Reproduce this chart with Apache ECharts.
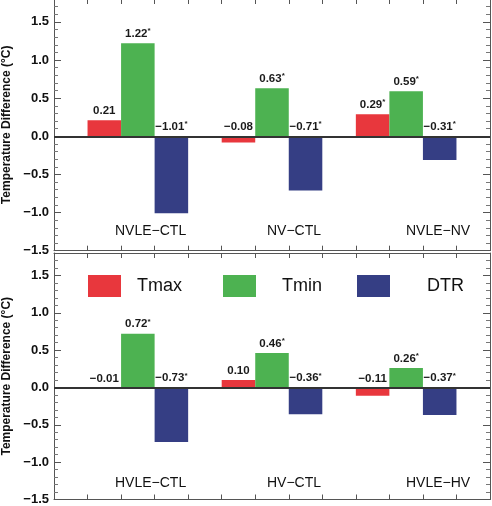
<!DOCTYPE html>
<html>
<head>
<meta charset="utf-8">
<script src="https://cdn.jsdelivr.net/npm/echarts@6/dist/echarts.min.js"></script>
<style>
html,body{margin:0;padding:0;background:#fff;}
#chart{width:492px;height:506px;}
</style>
</head>
<body>
<div id="chart"></div>
<script>
// ---- data ----
const seriesNames = ['Tmax', 'Tmin', 'DTR'];
const groupsTop = ['NVLE\u2212CTL', 'NV\u2212CTL', 'NVLE\u2212NV'];
const groupsBottom = ['HVLE\u2212CTL', 'HV\u2212CTL', 'HVLE\u2212HV'];

const tmaxTop = [0.21, -0.08, 0.29];
const tminTop = [1.22, 0.63, 0.59];
const dtrTop  = [-1.01, -0.71, -0.31];
const tmaxTopSig = [false, false, true];
const tminTopSig = [true, true, true];
const dtrTopSig  = [true, true, true];

const tmaxBottom = [-0.01, 0.10, -0.11];
const tminBottom = [0.72, 0.46, 0.26];
const dtrBottom  = [-0.73, -0.36, -0.37];
const tmaxBottomSig = [false, false, false];
const tminBottomSig = [true, true, true];
const dtrBottomSig  = [true, true, true];

const yMin = -1.5, yMax = 1.8, yStep = 0.5;
const nSlots = 13;

// ---- helpers ----
const colors = ['#E8373D', '#4DB251', '#353E84'];
const FONT = 'Liberation Sans, Arial, Helvetica, sans-serif';
const slots = Array.from({length: nSlots}, (_, i) => 's' + i);

function fmtNum(v) {
  const s = Math.abs(v).toFixed(2);
  return (v < 0 ? '\u2212' : '') + s;
}

function slotData(values, k) {
  const arr = new Array(nSlots).fill(null);
  values.forEach((v, g) => { arr[1 + 4 * g + k] = v; });
  return arr;
}
function slotSig(sigs, k) {
  const arr = new Array(nSlots).fill(false);
  sigs.forEach((s, g) => { arr[1 + 4 * g + k] = s; });
  return arr;
}

function barSeries(name, values, sigs, k, axisIdx, withZero) {
  const sigArr = slotSig(sigs, k);
  const s = {
    name: name,
    type: 'bar',
    xAxisIndex: axisIdx,
    yAxisIndex: axisIdx,
    data: slotData(values, k),
    barWidth: '100%',
    barGap: '-100%',
    itemStyle: {color: colors[k]},
    label: {
      show: true,
      position: 'top',
      distance: 3,
      fontFamily: FONT,
      fontSize: 11.5,
      fontWeight: 'bold',
      color: '#1a1a1a',
      formatter: p => fmtNum(p.value) + (sigArr[p.dataIndex] ? '{s|*}' : ''),
      rich: {s: {fontSize: 8, fontWeight: 'bold', padding: [0, 0, 5, 0], fontFamily: FONT, color: '#1a1a1a'}}
    },
    silent: true,
    z: 2
  };
  if (withZero) {
    s.markLine = {
      silent: true,
      symbol: ['none', 'none'],
      label: {show: false},
      lineStyle: {color: '#333', width: 2, type: 'solid'},
      data: [{yAxis: 0}],
      z: 5
    };
  }
  return s;
}

const grids = [
  {left: 54, right: 2, top: -1, height: 251.7, containLabel: false, outerBoundsMode: 'none'},
  {left: 54, right: 2, top: 253, height: 246.5, containLabel: false, outerBoundsMode: 'none'}
];

function xAxesFor(gi) {
  const common = {
    type: 'category', gridIndex: gi, data: slots, boundaryGap: true,
    axisLine: {show: true, onZero: false, lineStyle: {color: '#555', width: 1}},
    axisTick: {show: true, inside: true, length: 5, interval: 0, alignWithLabel: false, lineStyle: {color: '#555'}},
    axisLabel: {show: false}, splitLine: {show: false}
  };
  return [Object.assign({position: 'bottom'}, common), Object.assign({position: 'top'}, common)];
}

function yAxesFor(gi) {
  const common = {
    type: 'value', gridIndex: gi, min: yMin, max: yMax, interval: yStep,
    axisLine: {show: true, onZero: false, lineStyle: {color: '#555', width: 1}},
    axisTick: {show: true, inside: true, length: 7, lineStyle: {color: '#555'}},
    minorTick: {show: true, splitNumber: 5, length: 4, lineStyle: {color: '#777'}},
    splitLine: {show: false}, minorSplitLine: {show: false}
  };
  const left = Object.assign({}, common, {
    position: 'left',
    name: 'Temperature Difference (\u00B0C)',
    nameLocation: 'middle',
    nameGap: 40,
    nameTextStyle: {fontFamily: FONT, fontSize: 12, fontWeight: 'bold', color: '#111'},
    axisLabel: {
      show: true, showMaxLabel: false, margin: 5,
      fontFamily: FONT, fontSize: 13, fontWeight: 'bold', color: '#111',
      formatter: v => (v < 0 ? '\u2212' : '') + Math.abs(v).toFixed(1)
    }
  });
  const right = Object.assign({}, common, {position: 'right', axisLabel: {show: false}});
  return [left, right];
}

const xAxes = [...xAxesFor(0), ...xAxesFor(1)];
const yAxes = [...yAxesFor(0), ...yAxesFor(1)];

const series = [
  barSeries('Tmax', tmaxTop, tmaxTopSig, 0, 0, true),
  barSeries('Tmin', tminTop, tminTopSig, 1, 0, false),
  barSeries('DTR', dtrTop, dtrTopSig, 2, 0, false),
  barSeries('Tmax', tmaxBottom, tmaxBottomSig, 0, 2, true),
  barSeries('Tmin', tminBottom, tminBottomSig, 1, 2, false),
  barSeries('DTR', dtrBottom, dtrBottomSig, 2, 2, false)
];

const legendLayout = [
  {left: 88, pad: 11},
  {left: 223, pad: 21},
  {left: 357, pad: 32}
];
const legends = seriesNames.map((n, i) => ({
  data: [n], left: legendLayout[i].left, top: 275, orient: 'horizontal',
  icon: 'rect', itemWidth: 33, itemHeight: 22, padding: 0, selectedMode: false,
  textStyle: {fontFamily: FONT, fontSize: 18, color: '#111', padding: [0, 0, 0, legendLayout[i].pad]}
}));

const groupLabelPos = [115, 267, 406];
const groupText = [];
groupsTop.forEach((t, i) => groupText.push({type: 'text', left: groupLabelPos[i], top: 224,
  style: {text: t, fontFamily: FONT, fontSize: 14, fill: '#111'}}));
groupsBottom.forEach((t, i) => groupText.push({type: 'text', left: groupLabelPos[i], top: 476,
  style: {text: t, fontFamily: FONT, fontSize: 14, fill: '#111'}}));

const chart = echarts.init(document.getElementById('chart'), null, {renderer: 'canvas'});
chart.setOption({
  backgroundColor: '#fff',
  animation: false,
  grid: grids,
  xAxis: xAxes,
  yAxis: yAxes,
  legend: legends,
  series: series,
  graphic: groupText
});
</script>
</body>
</html>
